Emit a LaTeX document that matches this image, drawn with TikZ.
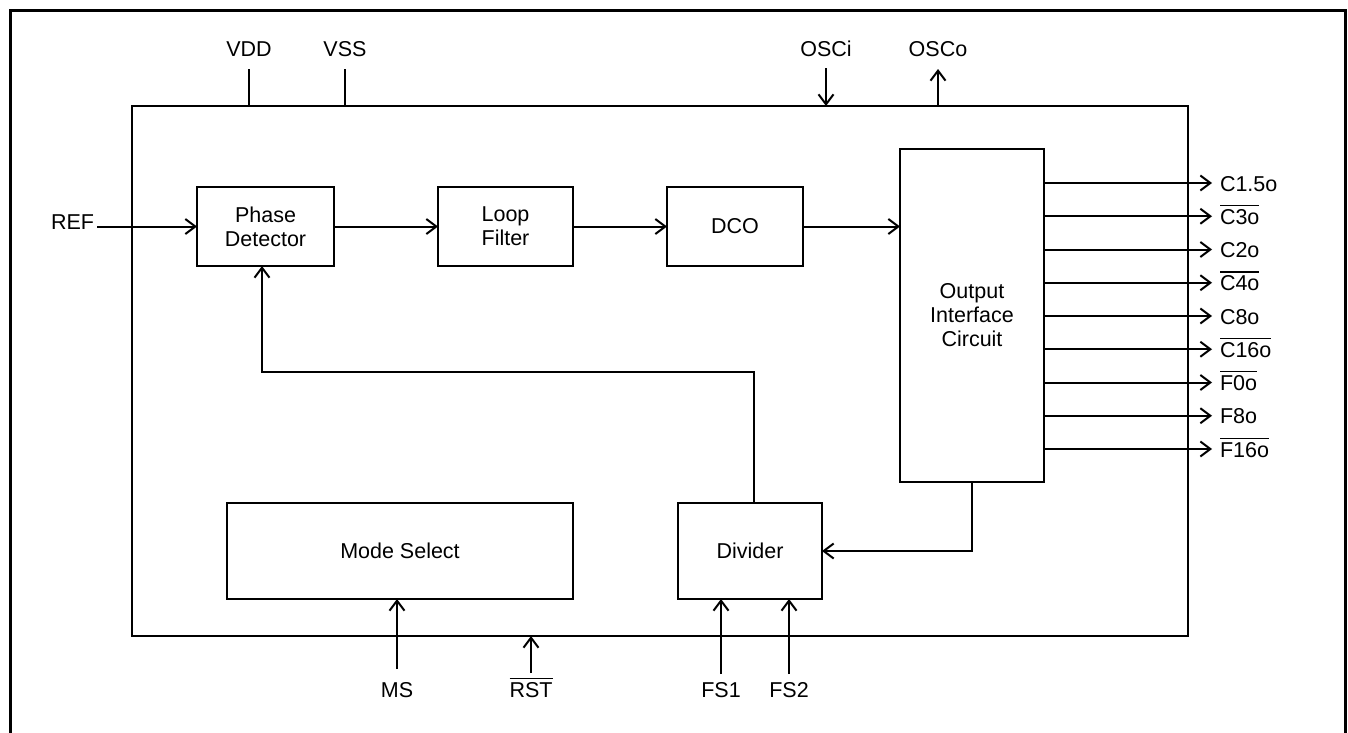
\documentclass[tikz,border=0pt]{standalone}
\usepackage{fontspec}
\setmainfont{Liberation Sans}
\usetikzlibrary{arrows.meta}
\newcommand{\ovl}[1]{\vbox{\hrule height 1.3pt\kern 3pt\hbox{#1}}}
\begin{document}
\begin{tikzpicture}[x=1pt,y=-1pt,
  every node/.style={font=\fontsize{21.5}{24}\selectfont, inner sep=0pt, outer sep=0pt},
  blk/.style={draw, line width=2pt, align=center},
  wire/.style={line width=2pt},
  arr/.style={wire, -{Straight Barb[length=10pt,width=15pt,line width=2pt]}},
  pin/.style={anchor=base}]
\useasboundingbox (0,0) rectangle (1348,732);
\draw[line width=3pt] (10.5,745) -- (10.5,10.5) -- (1345,10.5) -- (1345,745);

% chip outline
\node[blk, minimum width=1056pt, minimum height=530pt] (chip) at (660,371) {};

% blocks
\node[blk, minimum width=137pt, minimum height=79pt] (pd) at (265.5,226.5) {Phase\\Detector};
\node[blk, minimum width=135pt, minimum height=79pt] (lf) at (505.5,226.5) {Loop\\Filter};
\node[blk, minimum width=136pt, minimum height=79pt] (dco) at (735,226.5) {DCO};
\node[blk, minimum width=144pt, minimum height=333pt] (oic) at (972,315.5) {Output\\Interface\\Circuit};
\node[blk, minimum width=144pt, minimum height=96pt] (div) at (750,551) {Divider};
\node[blk, minimum width=346pt, minimum height=96pt] (ms) at (400,551) {Mode Select};

% REF input
\node[pin, anchor=base east] (ref) at (94,229) {REF};
\coordinate (refs) at (97,226.5);
\draw[arr] (refs) -- (pd.west);

% main chain
\draw[arr] (pd.east) -- (lf.west);
\draw[arr] (lf.east) -- (dco.west);
\draw[arr] (dco.east) -- (dco.east -| oic.west);

% feedback
\coordinate (fbt) at (754,0);
\coordinate (fb) at (262,372);
\draw[arr] (fbt |- div.north) |- (fb) -- (fb |- pd.south);
\draw[arr] (oic.south) |- (div.east);

% outputs
\foreach \t [count=\i] in {C1.5o,\ovl{C3o},C2o,\ovl{C4o},C8o,\ovl{C16o},\ovl{F0o},F8o,\ovl{F16o}}{
  \pgfmathsetmacro\yy{183+(\i-1)*33.25}
  \coordinate (o\i) at (1212,\yy);
  \draw[arr] (oic.east |- o\i) -- (o\i);
  \node[anchor=base west] (ol\i) at (1220,\yy+8) {\t};
}

% top pins
\node[pin] (vdd) at (249,56) {VDD};
\node[pin] (vss) at (345,56) {VSS};
\node[pin] (osci) at (826,56) {OSCi};
\node[pin] (osco) at (938,56) {OSCo};
\coordinate (vddt) at (249,69);
\coordinate (vsst) at (345,69);
\coordinate (oscit) at (826,68);
\coordinate (oscot) at (938,69);
\draw[wire] (vddt) -- (vddt |- chip.north);
\draw[wire] (vsst) -- (vsst |- chip.north);
\draw[arr] (oscit) -- (oscit |- chip.north);
\draw[arr] (oscot |- chip.north) -- (oscot);

% bottom pins
\node[pin] (msl) at (397,697) {MS};
\node[pin] (rst) at (531,697) {\ovl{RST}};
\node[pin] (fs1) at (721,697) {FS1};
\node[pin] (fs2) at (789,697) {FS2};
\coordinate (msb) at (397,669);
\coordinate (rstb) at (531,673);
\coordinate (fs1b) at (721,674);
\coordinate (fs2b) at (789,674);
\draw[arr] (msb) -- (msb |- ms.south);
\draw[arr] (rstb) -- (rstb |- chip.south);
\draw[arr] (fs1b) -- (fs1b |- div.south);
\draw[arr] (fs2b) -- (fs2b |- div.south);
\end{tikzpicture}
\end{document}
